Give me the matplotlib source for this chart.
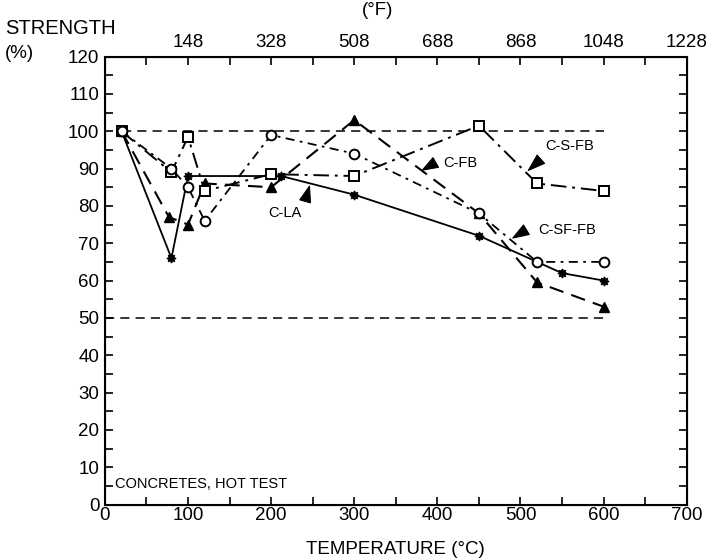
import numpy as np
import matplotlib.pyplot as plt
from matplotlib.ticker import MultipleLocator, FixedLocator

plt.rcParams['font.family'] = ['Liberation Sans', 'DejaVu Sans']

# C-LA : solid, stars
la_t = [20, 80, 100, 212, 300, 450, 550, 600]
la_s = [100, 66, 88, 88, 83, 72, 62, 60]
# C-FB : dashed, triangles
fb_t = [20, 77, 100, 120, 200, 300, 450, 520, 600]
fb_s = [100, 77, 75, 86, 85, 103, 78, 59.5, 53]
# C-S-FB : dash-dot, open squares
sfb_t = [20, 80, 100, 120, 200, 300, 450, 520, 600]
sfb_s = [100, 89, 98.5, 84, 88.5, 88, 101.5, 86, 84]
# C-SF-FB : dash-dot, open circles
sffb_t = [20, 80, 100, 120, 200, 300, 450, 520, 600]
sffb_s = [100, 90, 85, 76, 99, 94, 78, 65, 65]

f_labels = ['148', '328', '508', '688', '868', '1048', '1228']
f_pos = [100, 200, 300, 400, 500, 600, 700]

fig = plt.figure(figsize=(7.09, 5.6), dpi=100)
ax = fig.add_axes([0.148, 0.099, 0.8205, 0.8])

ax.plot([0, 600], [50, 50], color='k', lw=1.1, ls=(0, (6, 4)))
ax.plot([20, 600], [100, 100], color='k', lw=1.1, ls=(0, (6, 4)))

ax.plot(la_t, la_s, color='k', lw=1.3, ls='-', marker=(8, 1, 0), ms=6.5)
ax.plot(fb_t, fb_s, color='k', lw=1.5, ls=(0, (7, 4)), marker='^', ms=7)
ax.plot(sfb_t, sfb_s, color='k', lw=1.4, ls=(0, (8, 3, 1.5, 3)), marker='s',
        ms=7, mfc='white', mew=1.4)
ax.plot(sffb_t, sffb_s, color='k', lw=1.3, ls=(0, (5, 3, 1.5, 3)), marker='o',
        ms=7, mfc='white', mew=1.4)

def label(txt, tip, base, pos):
    ax.annotate('', xy=tip, xytext=base,
                arrowprops=dict(arrowstyle='wedge,tail_width=0.8,shrink_factor=0.5',
                                fc='k', ec='k', lw=0.8))
    ax.text(pos[0], pos[1], txt, fontsize=10.5, ha='left', va='center')

label('C-LA', (247, 86), (240, 80.5), (196, 78))
label('C-FB', (379, 89.2), (401, 92), (407, 91.5))
label('C-S-FB', (507, 89), (527, 93), (530, 96))
label('C-SF-FB', (488, 71), (510, 74), (521, 73.5))

ax.text(12, 5.5, 'CONCRETES, HOT TEST', fontsize=10.5, ha='left', va='center')

ax.set_xlim(0, 700)
ax.set_ylim(0, 120)
ax.xaxis.set_major_locator(MultipleLocator(100))
ax.xaxis.set_minor_locator(MultipleLocator(50))
ax.yaxis.set_major_locator(MultipleLocator(10))
ax.yaxis.set_minor_locator(MultipleLocator(5))
ax.tick_params(which='both', direction='in', length=6, width=1.2,
               top=False, right=True, labelsize=13.5)
ax.tick_params(axis='x', pad=2)
ax.tick_params(axis='y', pad=4)
for s in ax.spines.values():
    s.set_linewidth(1.5)

top = ax.twiny()
top.set_xlim(0, 700)
top.xaxis.set_major_locator(FixedLocator(f_pos))
top.set_xticklabels(f_labels)
top.xaxis.set_minor_locator(MultipleLocator(50))
top.tick_params(which='both', direction='in', length=6, width=1.2,
                labelsize=13.5, pad=4)

ax.set_xlabel('TEMPERATURE (°C)', fontsize=13.5, labelpad=12)
fig.text(0.007, 0.95, 'STRENGTH', fontsize=14.5, ha='left', va='center')
fig.text(0.007, 0.905, '(%)', fontsize=13.5, ha='left', va='center')
fig.text(0.533, 0.982, '(°F)', fontsize=13.5, ha='center', va='center')

fig.savefig('out.png', dpi=100)
